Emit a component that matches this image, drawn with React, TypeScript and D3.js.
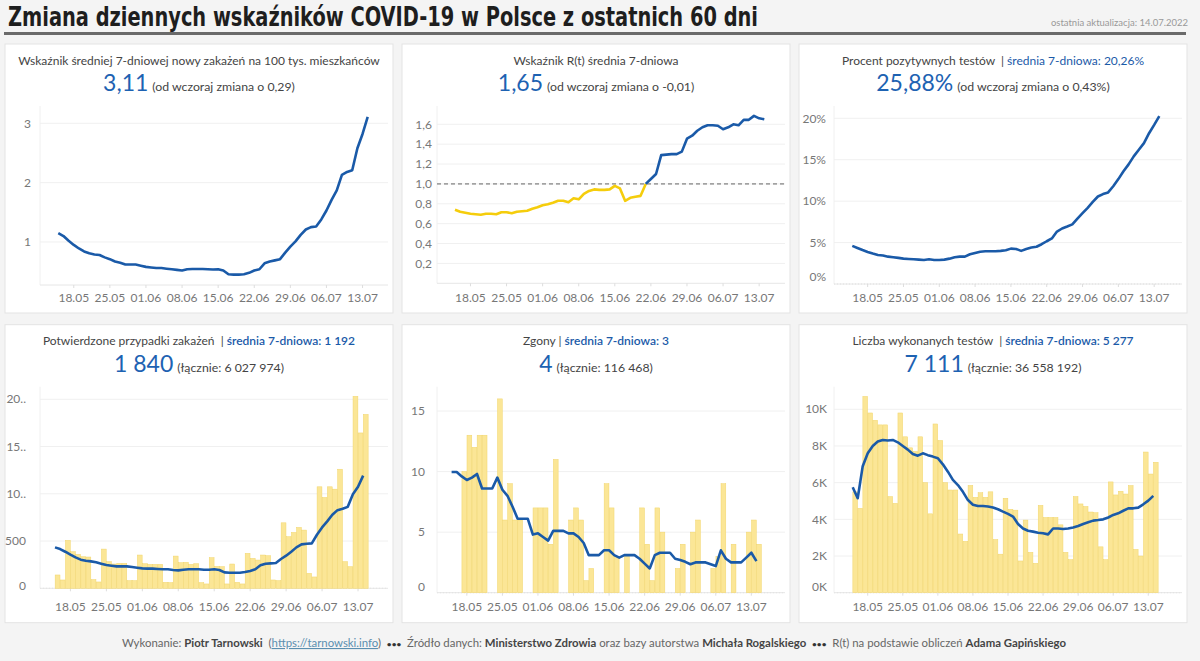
import * as d3 from "d3";

// dashboard: 60 days of COVID-19 indicators in Poland (15.05 - 14.07.2022)

const FONT = "Lato, 'Open Sans', 'DejaVu Sans', sans-serif";
const BLUE = "#1a5aa8";
const NUM_BLUE = "#1d62b2";
const YELLOW_LINE = "#f5cd0c";
const BAR_FILL = "#fbe696";
const BAR_EDGE = "#f1d56c";
const GRAY_TXT = "#777";

const days = d3.timeDay.range(new Date(2022, 4, 15), new Date(2022, 6, 15));
const dayLabels = days.map(d3.timeFormat("%d.%m"));
const weekTicks = ["18.05", "25.05", "01.06", "08.06", "15.06", "22.06", "29.06", "06.07", "13.07"];

const incidence = [
  1.15, 1.1, 1.02, 0.95, 0.89, 0.84, 0.81, 0.79, 0.78, 0.74,
  0.71, 0.67, 0.65, 0.62, 0.62, 0.62, 0.6, 0.58, 0.57, 0.56,
  0.56, 0.55, 0.54, 0.53, 0.52, 0.54, 0.545, 0.545, 0.545, 0.54,
  0.535, 0.54, 0.52, 0.455, 0.45, 0.45, 0.455, 0.48, 0.52, 0.54,
  0.64, 0.67, 0.69, 0.71, 0.82, 0.92, 1.01, 1.12, 1.21, 1.25,
  1.26, 1.38, 1.53, 1.71, 1.87, 2.13, 2.18, 2.21, 2.58, 2.82, 3.11,
];

const rt = [
  0.74, 0.72, 0.71, 0.7, 0.695, 0.69, 0.7, 0.7, 0.695, 0.715,
  0.715, 0.705, 0.72, 0.725, 0.73, 0.75, 0.765, 0.785, 0.795, 0.81,
  0.83, 0.83, 0.815, 0.855, 0.845, 0.9, 0.93, 0.945, 0.94, 0.94,
  0.945, 0.98, 0.955, 0.83, 0.86, 0.87, 0.88, 1.0, 1.05, 1.1,
  1.29, 1.295, 1.3, 1.3, 1.325, 1.455, 1.485, 1.535, 1.57, 1.59,
  1.59, 1.585, 1.55, 1.57, 1.6, 1.59, 1.645, 1.645, 1.685, 1.66, 1.65,
];

const positivity = [
  4.6, 4.35, 4.1, 3.87, 3.67, 3.5, 3.43, 3.3, 3.23, 3.15,
  3.06, 3.02, 2.98, 2.94, 2.9, 2.98, 2.9, 2.9, 2.94, 3.06,
  3.23, 3.3, 3.3, 3.59, 3.75, 3.9, 3.95, 3.95, 3.95, 4.0,
  4.07, 4.27, 4.23, 4.0, 4.23, 4.4, 4.5, 4.8, 5.16, 5.5,
  6.33, 6.7, 6.94, 7.2, 7.9, 8.55, 9.2, 9.9, 10.56, 10.85,
  11.05, 11.8, 12.66, 13.6, 14.44, 15.4, 16.2, 17.0, 18.2, 19.2, 20.26,
];

const casesDaily = [
  141, 88, 507, 387, 359, 334, 331, 92, 67, 415,
  282, 257, 264, 264, 81, 81, 352, 260, 253, 253,
  253, 63, 60, 341, 271, 275, 253, 260, 60, 46,
  324, 232, 229, 46, 257, 63, 46, 370, 317, 299,
  352, 345, 88, 81, 693, 546, 591, 644, 616, 158,
  120, 1074, 961, 1074, 1049, 1260, 282, 229, 2031, 1644, 1840,
];
const casesAvg = [
  433, 415, 387, 356, 327, 303, 292, 285, 275, 260,
  246, 239, 232, 232, 232, 225, 218, 211, 208, 208,
  204, 201, 201, 194, 190, 197, 201, 201, 201, 197,
  197, 201, 194, 169, 165, 165, 165, 172, 183, 201,
  243, 260, 264, 268, 310, 345, 387, 433, 465, 472,
  475, 567, 644, 708, 778, 827, 841, 862, 996, 1074, 1192,
];
const casesTickLabels = ["0", "500", "10..", "15..", "20.."];

const deathsDaily = [
  0, 0, 10, 13, 12, 13, 13, 0, 0, 16,
  6, 9, 6, 6, 0, 0, 7, 7, 7, 4,
  11, 0, 0, 6, 7, 6, 1, 2, 0, 0,
  9, 7, 3, 0, 3, 0, 0, 7, 4, 1,
  7, 5, 0, 0, 2, 4, 0, 5, 6, 0,
  0, 2, 3, 9, 0, 4, 0, 0, 5, 6, 4,
];
const deathsAvg = [
  9.97, 9.97, 9.6, 9.3, 9.5, 9.8, 8.6, 8.6, 8.6, 9.5,
  8.5, 8.0, 7.1, 6.1, 6.1, 6.1, 4.8, 4.9, 4.6, 4.3,
  5.1, 5.1, 5.1, 4.9, 4.9, 4.6, 4.1, 3.1, 3.1, 3.1,
  3.5, 3.5, 3.1, 2.9, 3.1, 3.1, 3.1, 2.8, 2.4, 2.0,
  3.1, 3.3, 3.3, 3.3, 2.8, 2.7, 2.55, 2.35, 2.5, 2.5,
  2.5, 2.35, 2.2, 3.5, 2.8, 2.5, 2.5, 2.5, 2.9, 3.3, 2.6,
];

const testsDaily = [
  5500, 4600, 10700, 9800, 9400, 9150, 9150, 5240, 4870, 9800,
  8500, 7900, 7700, 8500, 6000, 4300, 9200, 8300, 6000, 5600,
  5600, 3200, 2800, 5850, 5200, 5450, 5200, 5500, 2900, 2100,
  5150, 4550, 4500, 1730, 3960, 2200, 1600, 4760, 4100, 4100,
  4100, 3700, 2200, 1800, 5240, 4840, 4700, 4400, 4360, 2500,
  1800, 6040, 5330, 5530, 5380, 5840, 2360, 2000, 7670, 6470, 7111,
];
const testsAvg = [
  5750, 5150, 6900, 7600, 8000, 8240, 8330, 8300, 8330, 8200,
  8000, 7800, 7560, 7470, 7600, 7500, 7420, 7330, 7000, 6600,
  6150, 5870, 5500, 5050, 4800, 4730, 4730, 4700, 4650, 4550,
  4420, 4300, 4150, 3750, 3500, 3380, 3330, 3270, 3240, 3180,
  3500, 3500, 3470, 3500, 3560, 3640, 3750, 3840, 3930, 3960,
  4000, 4100, 4240, 4330, 4470, 4600, 4600, 4640, 4820, 5020, 5277,
];

const comma = (v: number) => d3.format(".1f")(v).replace(".", ",");

const panels = [
  {
    id: "inc", px: 5, py: 44, ph: 269,
    title: "Wskaźnik średniej 7-dniowej nowy zakażeń na 100 tys. mieszkańców",
    big: "3,11", note: "(od wczoraj zmiana o 0,29)",
    line: incidence, yDomain: [0, 3], yRange: [257.3, 79.3], yTicks: [1, 2, 3],
    fmt: (v: number) => String(v), xRange: [53.3, 362.7], axisY: 241, labelRight: 26,
  },
  {
    id: "rt", px: 402, py: 44, ph: 269,
    title: "Wskaźnik R(t) średnia 7-dniowa",
    big: "1,65", note: "(od wczoraj zmiana o -0,01)",
    line: rt, split: true, refLine: 1, yDomain: [0, 1.6], yRange: [239.3, 80.3],
    yTicks: [0.2, 0.4, 0.6, 0.8, 1.0, 1.2, 1.4, 1.6],
    fmt: comma, xRange: [53, 362.3], axisY: 239.3, labelRight: 30,
  },
  {
    id: "pos", px: 799, py: 44, ph: 269,
    title: "Procent pozytywnych testów  | ", avg: "średnia 7-dniowa: 20,26%", avgWeight: 400,
    big: "25,88%", note: "(od wczoraj zmiana o 0,43%)",
    line: positivity, yDomain: [0, 20], yRange: [240, 74.3], yTicks: [0, 5, 10, 15, 20],
    fmt: (v: number) => v + "%", zeroLift: 7, xRange: [53.3, 360.3], axisY: 240, labelRight: 27,
  },
  {
    id: "cases", px: 5, py: 324.7, ph: 298,
    title: "Potwierdzone przypadki zakażeń  | ", avg: "średnia 7-dniowa: 1 192", avgWeight: 600,
    big: "1 840", note: "(łącznie: 6 027 974)",
    bars: casesDaily, line: casesAvg, yDomain: [0, 2000], yRange: [263.6, 74.6],
    yTicks: [0, 500, 1000, 1500, 2000], tickText: casesTickLabels,
    fmt: (v: number) => String(v), zeroLift: 2, xRange: [50, 363.3], axisY: 263.6, labelRight: 21,
  },
  {
    id: "deaths", px: 402, py: 324.7, ph: 298,
    title: "Zgony | ", avg: "średnia 7-dniowa: 3", avgWeight: 600,
    big: "4", note: "(łącznie: 116 468)",
    bars: deathsDaily, line: deathsAvg, yDomain: [0, 15], yRange: [268, 86.3], yTicks: [0, 5, 10, 15],
    fmt: (v: number) => String(v), zeroLift: 5.5, xRange: [49.6, 359.5], axisY: 268, labelRight: 23,
  },
  {
    id: "tests", px: 799, py: 324.7, ph: 298,
    title: "Liczba wykonanych testów  | ", avg: "średnia 7-dniowa: 5 277", avgWeight: 600,
    big: "7 111", note: "(łącznie: 36 558 192)",
    bars: testsDaily, line: testsAvg, yDomain: [0, 10000], yRange: [268, 84.6],
    yTicks: [0, 2000, 4000, 6000, 8000, 10000],
    fmt: (v: number) => v / 1000 + "K", zeroLift: 5.5, xRange: [53.7, 359.3], axisY: 268, labelRight: 28,
  },
];

const PW = 388;

function Panel({ p }: { p: any }) {
  const n = p.line.length;
  const xs = d3.scaleLinear().domain([0, p.bars ? n : n - 1]).range(p.xRange);
  const ys = d3.scaleLinear().domain(p.yDomain).range(p.yRange);
  const line = d3
    .line<[number, number]>()
    .x((d) => xs(d[0]))
    .y((d) => ys(d[1]));
  const pts: [number, number][] = p.line.map((v: number, i: number) => [i, v]);
  const cx = PW / 2;
  const bottomRow = !!p.bars;
  const xLabelY = bottomRow ? 286 : 258;

  let paths;
  if (p.split) {
    const k = p.line.findIndex((v: number) => v >= p.refLine);
    paths = (
      <>
        <path d={line(pts.slice(0, k + 1)) || ""} fill="none" stroke={YELLOW_LINE} strokeWidth={2.6} strokeLinejoin="round" />
        <path d={line(pts.slice(k)) || ""} fill="none" stroke={BLUE} strokeWidth={2.6} strokeLinejoin="round" />
      </>
    );
  } else {
    paths = <path d={line(pts) || ""} fill="none" stroke={BLUE} strokeWidth={2.6} strokeLinejoin="round" />;
  }

  return (
    <g transform={`translate(${p.px},${p.py})`}>
      <rect x={0} y={0} width={PW} height={p.ph} fill="#fff" stroke="#e3e3e3" />
      <text x={cx} y={20.5} textAnchor="middle" fontSize={12} fill="#444" style={{ whiteSpace: "pre" }}>
        {p.title}
        {p.avg && (
          <tspan fill={BLUE} fontWeight={p.avgWeight}>
            {p.avg}
          </tspan>
        )}
      </text>
      <text x={cx} y={47} textAnchor="middle" style={{ whiteSpace: "pre" }}>
        <tspan fontSize={23} fill={NUM_BLUE}>{p.big}</tspan>
        <tspan fontSize={12.3} fill="#444" dx={4}>{p.note}</tspan>
      </text>

      {/* grid */}
      {p.yTicks.map((t: number) => (
        <line key={"g" + t} x1={35} x2={383} y1={ys(t)} y2={ys(t)} stroke={t === 0 ? "#d9d9d9" : "#f0f0f0"} strokeDasharray={t === 0 ? "1 2" : undefined} />
      ))}
      <line x1={35} x2={35} y1={62} y2={p.axisY} stroke="#f0f0f0" />
      <line x1={35} x2={383} y1={p.axisY} y2={p.axisY} stroke="#e6e6e6" />
      {weekTicks.map((lab) => {
        const i = dayLabels.indexOf(lab);
        return <line key={"t" + lab} x1={xs(i)} x2={xs(i)} y1={p.axisY} y2={p.axisY + 3} stroke="#ddd" />;
      })}

      {p.refLine !== undefined && (
        <line x1={35} x2={383} y1={ys(p.refLine)} y2={ys(p.refLine)} stroke="#666" strokeDasharray="4 3" />
      )}

      {p.bars &&
        p.bars.map((v: number, i: number) =>
          v > 0 ? (
            <rect
              key={"b" + i}
              x={xs(i) + 0.15}
              y={ys(v)}
              width={xs(i + 1) - xs(i) - 0.3}
              height={ys(0) - ys(v)}
              fill={BAR_FILL}
              stroke={BAR_EDGE}
              strokeWidth={0.5}
            />
          ) : null
        )}

      {paths}

      {/* y labels */}
      {p.yTicks.map((t: number, j: number) => (
        <text
          key={"y" + t}
          x={p.labelRight}
          y={ys(t) - (t === 0 ? p.zeroLift || 0 : 0)}
          dy="0.35em"
          textAnchor="end"
          fontSize={12}
          fill={GRAY_TXT}
        >
          {p.tickText ? p.tickText[j] : p.fmt(t)}
        </text>
      ))}
      {/* x labels */}
      {weekTicks.map((lab) => (
        <text key={"x" + lab} x={xs(dayLabels.indexOf(lab))} y={xLabelY} textAnchor="middle" fontSize={12} fill={GRAY_TXT}>
          {lab}
        </text>
      ))}
    </g>
  );
}

export default function App() {
  return (
    <svg
      width={1200}
      height={661}
      style={{ position: "absolute", left: 0, top: 0, fontFamily: FONT }}
    >
      <rect width={1200} height={661} fill="#f4f4f4" />
      <text
        x={8}
        y={26}
        fontSize={26}
        fontWeight={700}
        fill="#1e1e1e"
        textLength={750}
        lengthAdjust="spacingAndGlyphs"
        style={{ fontFamily: "'Liberation Sans Narrow', 'DejaVu Sans Condensed', Roboto, sans-serif" }}
      >
        Zmiana dziennych wskaźników COVID-19 w Polsce z ostatnich 60 dni
      </text>
      <text x={1188} y={26} textAnchor="end" fontSize={9.5} fill="#999">
        ostatnia aktualizacja: 14.07.2022
      </text>
      <rect x={4} y={32} width={1182} height={3} fill="#6a6a6a" />

      {panels.map((p) => (
        <Panel key={p.id} p={p} />
      ))}

      <text
        x={594}
        y={647}
        textAnchor="middle"
        fontSize={11}
        fill="#666"
        textLength={944}
        lengthAdjust="spacingAndGlyphs"
        style={{ whiteSpace: "pre" }}
      >
        {"Wykonanie: "}
        <tspan fontWeight={700} fill="#444">Piotr Tarnowski</tspan>
        {"  ("}
        <tspan fill="#5b8fb0" textDecoration="underline">https://tarnowski.info</tspan>
        {")  "}
        <tspan fontWeight={700} fill="#333" fontSize={8}>•••</tspan>
        {"  Źródło danych: "}
        <tspan fontWeight={700} fill="#444">Ministerstwo Zdrowia</tspan>
        {" oraz bazy autorstwa "}
        <tspan fontWeight={700} fill="#444">Michała Rogalskiego</tspan>
        {"  "}
        <tspan fontWeight={700} fill="#333" fontSize={8}>•••</tspan>
        {"  R(t) na podstawie obliczeń "}
        <tspan fontWeight={700} fill="#444">Adama Gapińskiego</tspan>
      </text>
    </svg>
  );
}
